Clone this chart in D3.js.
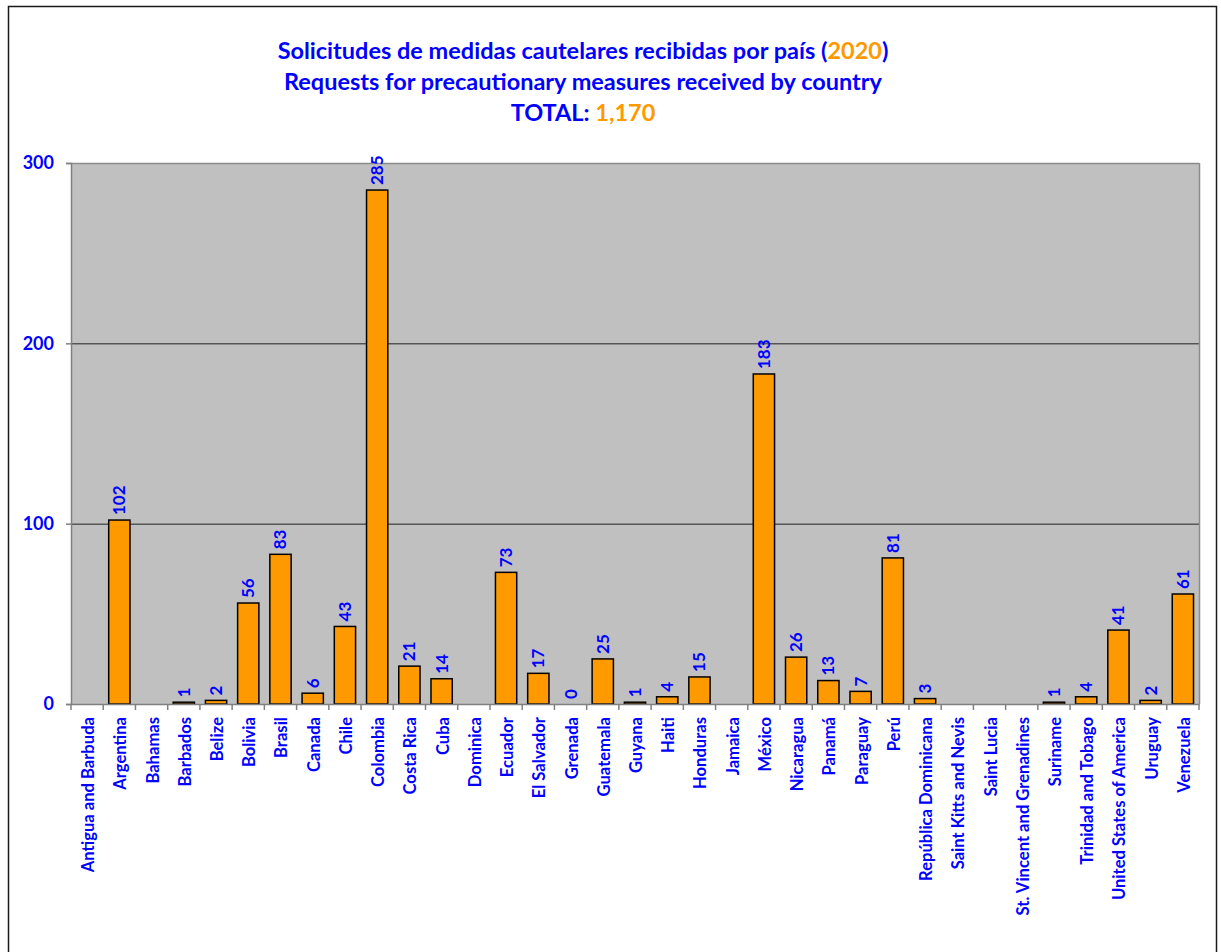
<!DOCTYPE html>
<html><head><meta charset="utf-8">
<script src="https://cdn.jsdelivr.net/npm/d3@7"></script>
<style>
html,body{margin:0;padding:0;background:#fff;}
svg{display:block;}
text{font-family:Lato,"Open Sans",sans-serif;font-weight:bold;}
</style></head>
<body>
<script>
const countries = ["Antigua and Barbuda","Argentina","Bahamas","Barbados","Belize","Bolivia","Brasil","Canada","Chile","Colombia","Costa Rica","Cuba","Dominica","Ecuador","El Salvador","Grenada","Guatemala","Guyana","Haiti","Honduras","Jamaica","México","Nicaragua","Panamá","Paraguay","Perú","República Dominicana","Saint Kitts and Nevis","Saint Lucia","St. Vincent and Grenadines","Suriname","Trinidad and Tobago","United States of America","Uruguay","Venezuela"];
const requests = [null,102,null,1,2,56,83,6,43,285,21,14,null,73,17,0,25,1,4,15,null,183,26,13,7,81,3,null,null,null,1,4,41,2,61];
const yTicks = [0,100,200,300];
const titleLine1 = "Solicitudes de medidas cautelares recibidas por país (";
const titleYear = "2020";
const titleLine2 = "Requests for precautionary measures received by country";
const totalLabel = "TOTAL: ";
const totalValue = "1,170";

const W = 1221, H = 952;
const blue = "#0000FF", orange = "#FF9900";
const m = {left:71, right:1199, top:163, bottom:704};

const svg = d3.select("body").append("svg").attr("width", W).attr("height", H);
svg.append("rect").attr("x",8.5).attr("y",6.5).attr("width",1208).attr("height",960)
  .attr("fill","#fff").attr("stroke","#1a1a1a").attr("stroke-width",1.5);

const x = d3.scaleBand().domain(countries).range([m.left, m.right]).paddingInner(0.34).paddingOuter(0.17);
const y = d3.scaleLinear().domain([0,300]).range([m.bottom, m.top]);

// plot area
svg.append("rect").attr("x",m.left).attr("y",m.top).attr("width",m.right-m.left).attr("height",m.bottom-m.top)
  .attr("fill","#C0C0C0");
// gridlines
svg.append("g").selectAll("line").data(yTicks.filter(t=>t>0 && t<300)).join("line")
  .attr("x1",m.left).attr("x2",m.right).attr("y1",d=>y(d)+0.5).attr("y2",d=>y(d)+0.5)
  .attr("stroke","#222").attr("stroke-width",1);
// top and right border
svg.append("line").attr("x1",m.left).attr("x2",m.right).attr("y1",y(300)+0.5).attr("y2",y(300)+0.5).attr("stroke","#8c8c8c").attr("stroke-width",1.5);
svg.append("line").attr("x1",m.right+0.5).attr("x2",m.right+0.5).attr("y1",m.top).attr("y2",m.bottom).attr("stroke","#8c8c8c").attr("stroke-width",1.5);

// bars
const data = countries.map((c,i)=>({c, v:requests[i]}));
svg.append("g").selectAll("rect").data(data.filter(d=>d.v!==null && d.v>0)).join("rect")
  .attr("x",d=>x(d.c)).attr("width",x.bandwidth())
  .attr("y",d=>y(d.v)).attr("height",d=>y(0)-y(d.v))
  .attr("fill",orange).attr("stroke","#000").attr("stroke-width",1.5);

// value labels
svg.append("g").selectAll("text").data(data.filter(d=>d.v!==null)).join("text")
  .attr("transform",d=>`translate(${x(d.c)+x.bandwidth()/2+6},${y(d.v)-5}) rotate(-90)`)
  .attr("text-anchor","start").attr("fill",blue).attr("font-size",17)
  .text(d=>d.v);

// y axis
const yAxis = d3.axisLeft(y).tickValues(yTicks).tickSize(5).tickPadding(12).tickFormat(d3.format("d"));
const yg = svg.append("g").attr("transform",`translate(${m.left},0)`).call(yAxis);
yg.select(".domain").attr("stroke","#808080").attr("stroke-width",1.5);
yg.selectAll(".tick line").attr("stroke","#808080").attr("stroke-width",1.5);
yg.selectAll(".tick text").attr("fill",blue).attr("font-size",18).attr("font-family","Lato,sans-serif").attr("font-weight","bold");

// x axis
const xAxis = d3.axisBottom(x).tickSize(0).tickPadding(0);
const xg = svg.append("g").attr("transform",`translate(0,${m.bottom})`).call(xAxis);
xg.select(".domain").attr("stroke","#808080").attr("stroke-width",1.5);
xg.selectAll(".tick text").attr("fill",blue).attr("font-size",16.6).attr("font-family","Lato,sans-serif").attr("font-weight","bold")
  .attr("text-anchor","end").attr("transform","translate(7,13) rotate(-90)").attr("dy",0).attr("y",0).attr("x",0);
// category boundary ticks
svg.append("g").selectAll("line").data(d3.range(countries.length+1)).join("line")
  .attr("x1",i=>m.left + i*(m.right-m.left)/countries.length).attr("x2",i=>m.left + i*(m.right-m.left)/countries.length)
  .attr("y1",m.bottom).attr("y2",m.bottom+6).attr("stroke","#808080").attr("stroke-width",1.5);

// title
const t = svg.append("g").attr("text-anchor","middle").attr("font-size",23.5).attr("fill",blue);
const l1 = t.append("text").attr("x",583).attr("y",59);
l1.append("tspan").text(titleLine1);
l1.append("tspan").attr("fill",orange).text(titleYear);
l1.append("tspan").text(")");
t.append("text").attr("x",583).attr("y",90).text(titleLine2);
const l3 = t.append("text").attr("x",583).attr("y",121);
l3.append("tspan").text(totalLabel);
l3.append("tspan").attr("fill",orange).text(totalValue);
</script>
</body></html>
